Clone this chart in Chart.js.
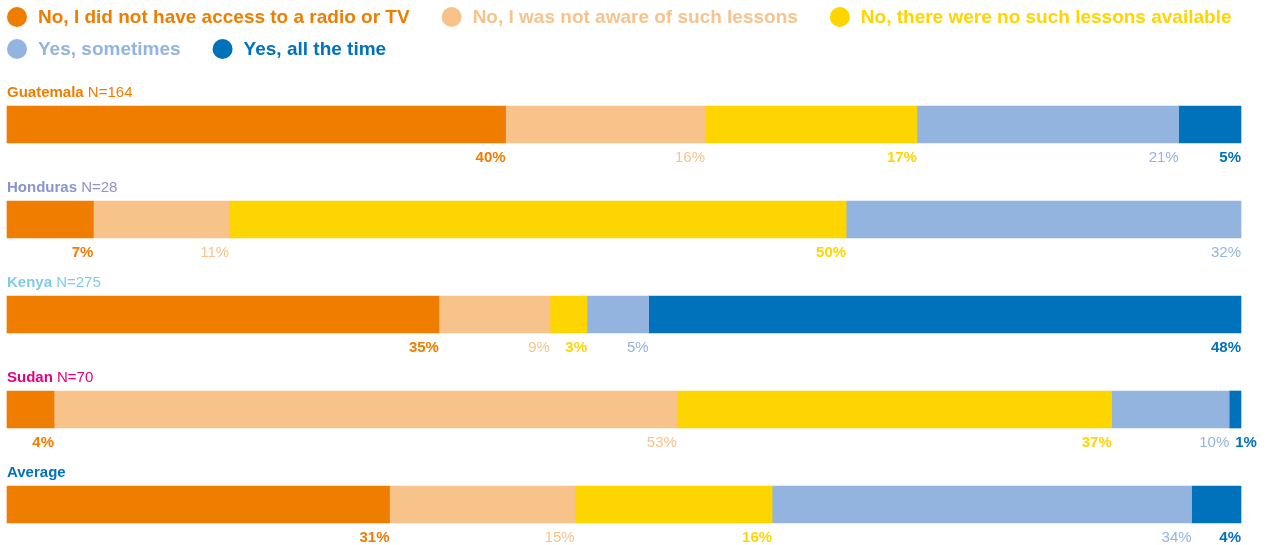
<!DOCTYPE html>
<html lang="en">
<head>
  <meta charset="UTF-8">
  <title>Access to radio or TV lessons</title>
  <script src="https://cdn.jsdelivr.net/npm/chart.js"></script>
  <style>
    html, body { margin: 0; padding: 0; background: #fff; }
    #wrap { width: 1269px; height: 545px; position: relative; }
  </style>
</head>
<body>
  <div id="wrap"><canvas id="myChart"></canvas></div>
  <script>
    // Countries and sample sizes
    const countries = ['Guatemala', 'Honduras', 'Kenya', 'Sudan', 'Average'];
    const sampleSizes = ['N=164', 'N=28', 'N=275', 'N=70', ''];
    const countryColors = ['#EF7D00', '#8A94CC', '#80CBE6', '#E5007D', '#0072BB'];

    // Answers (percent, as printed under the bars)
    const noAccess   = [40, 7, 35, 4, 31];
    const notAware   = [16, 11, 9, 53, 15];
    const noLessons  = [17, 50, 3, 37, 16];
    const sometimes  = [21, 32, 5, 10, 34];
    const allTheTime = [5, null, 48, 1, 4];

    const answers = [
      { label: 'No, I did not have access to a radio or TV', values: noAccess, color: '#EF7D00', bold: true },
      { label: 'No, I was not aware of such lessons', values: notAware, color: '#F8C38B', bold: false },
      { label: 'No, there were no such lessons available', values: noLessons, color: '#FFD500', bold: true },
      { label: 'Yes, sometimes', values: sometimes, color: '#93B4DF', bold: false },
      { label: 'Yes, all the time', values: allTheTime, color: '#0072BB', bold: true }
    ];

    const FONT = '"Liberation Sans", Arial, Helvetica, sans-serif';

    // each bar fills the full width: scale by the row total
    const rowTotals = countries.map((_, i) =>
      answers.reduce((s, a) => s + (a.values[i] || 0), 0));

    const datasets = answers.map(a => ({
      label: a.label,
      data: a.values.map((v, i) => v === null ? null : v / rowTotals[i] * 100),
      backgroundColor: a.color,
      borderWidth: 0,
      barThickness: 37,
      clip: false
    }));

    // legend drawn on the canvas, flowing left to right
    const legendPlugin = {
      id: 'flowLegend',
      afterDraw(chart) {
        const ctx = chart.ctx;
        ctx.save();
        ctx.font = 'bold 19px ' + FONT;
        ctx.textBaseline = 'middle';
        let x = 7, y = 17;
        const maxX = chart.width - 10;
        answers.forEach(a => {
          const w = 20 + 11 + ctx.measureText(a.label).width;
          if (x + w > maxX) { x = 7; y += 32; }
          ctx.fillStyle = a.color;
          ctx.beginPath();
          ctx.arc(x + 10, y, 10, 0, Math.PI * 2);
          ctx.fill();
          ctx.fillText(a.label, x + 31, y + 1);
          x += w + 32;
        });
        ctx.restore();
      }
    };

    // country titles above and percent labels below each bar
    const labelPlugin = {
      id: 'barLabels',
      afterDatasetsDraw(chart) {
        const ctx = chart.ctx;
        const left = chart.chartArea.left;
        ctx.save();
        ctx.textBaseline = 'alphabetic';
        const firstMeta = chart.getDatasetMeta(0);
        countries.forEach((name, i) => {
          const el = firstMeta.data[i];
          const top = el.y - 18.5;
          ctx.fillStyle = countryColors[i];
          ctx.textAlign = 'left';
          ctx.font = 'bold 15px ' + FONT;
          ctx.fillText(name, left, top - 9);
          const w = ctx.measureText(name + ' ').width;
          ctx.font = '15px ' + FONT;
          ctx.fillText(sampleSizes[i], left + w, top - 9);

          let prevEnd = -Infinity;
          answers.forEach((a, d) => {
            const v = a.values[i];
            if (v === null) return;
            const bar = chart.getDatasetMeta(d).data[i];
            ctx.font = (a.bold ? 'bold ' : '') + '15px ' + FONT;
            const txt = v + '%';
            const tw = ctx.measureText(txt).width;
            let end = bar.x;
            if (end - tw < prevEnd + 6) end = prevEnd + 6 + tw;
            ctx.fillStyle = a.color;
            ctx.textAlign = 'right';
            ctx.fillText(txt, end, bar.y + 18.5 + 19);
            prevEnd = end;
          });
        });
        ctx.restore();
      }
    };

    const ctx = document.getElementById('myChart').getContext('2d');
    const myChart = new Chart(ctx, {
      type: 'bar',
      data: { labels: countries, datasets: datasets },
      options: {
        indexAxis: 'y',
        responsive: true,
        maintainAspectRatio: false,
        animation: false,
        layout: { padding: { top: 124.5, bottom: 40.5, left: 7, right: 28 } },
        plugins: {
          legend: { display: false },
          tooltip: { enabled: false }
        },
        scales: {
          x: { stacked: true, min: 0, max: 100, display: false },
          y: { stacked: true, display: false, offset: false }
        }
      },
      plugins: [legendPlugin, labelPlugin]
    });
  </script>
</body>
</html>
